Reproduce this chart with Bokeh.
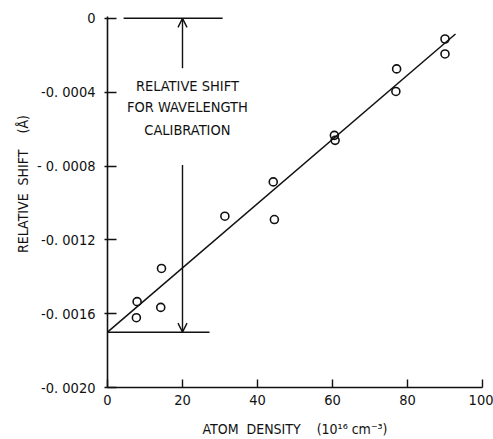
from bokeh.plotting import figure
from bokeh.models import Arrow, OpenHead, ColumnDataSource, FixedTicker
from bokeh.core.properties import value
from bokeh.embed import file_html
from bokeh.resources import INLINE

# measured relative line shift vs. atom density
density = [7.9, 7.7, 14.4, 14.2, 31.3, 44.2, 44.5, 60.5, 60.7, 77.1, 76.9, 90.0, 90.0]
shift = [-0.001535, -0.001622, -0.001355, -0.001566, -0.001072, -0.000886, -0.001090,
         -0.000634, -0.000661, -0.000274, -0.000396, -0.000112, -0.000193]

# straight-line fit through the points
fit_x = [0.0, 92.8]
fit_y = [-0.00170, -0.000085]

x_ticks = [0, 20, 40, 60, 80, 100]
y_ticks = [0.0, -0.0004, -0.0008, -0.0012, -0.0016, -0.0020]
y_tick_labels = ["0", "-0.\u00a00004", "-\u00a00.\u00a00008", "-0.\u00a00012",
                 "-0.\u00a00016", "-0.\u00a00020"]

note_lines = ["RELATIVE SHIFT", "FOR WAVELENGTH", "CALIBRATION"]

NB = "\u00a0"
x_title = f"ATOM{NB*2}DENSITY{NB*4}(10\u00b9\u2076{NB}cm\u207b\u00b3)"
# leading blanks lift the rotated title a little above the axis centre
y_title = f"{NB*9}RELATIVE{NB}{NB}SHIFT{NB*4}(\u00c5)"

FONT = "DejaVu Sans Condensed"
INK = "#111111"

p = figure(width=493, height=439, output_backend="svg", toolbar_location=None,
           x_range=(0, 100), y_range=(-0.0020, 0.00001),
           min_border_left=107, min_border_right=11, min_border_top=16, min_border_bottom=52)
p.outline_line_color = None
p.grid.visible = False
p.background_fill_color = "white"
p.border_fill_color = "white"

# axes
p.xaxis.ticker = FixedTicker(ticks=x_ticks)
p.yaxis.ticker = FixedTicker(ticks=y_ticks)
p.yaxis.major_label_overrides = {t: l for t, l in zip(y_ticks, y_tick_labels)}
for ax in (p.xaxis[0], p.yaxis[0]):
    ax.axis_line_color = INK
    ax.axis_line_width = 1.6
    ax.major_tick_line_color = INK
    ax.major_tick_line_width = 1.4
    ax.minor_tick_line_color = None
    ax.major_label_text_font = FONT
    ax.major_label_text_font_size = "14.5px"
    ax.major_label_text_color = INK
    ax.axis_label_text_font = FONT
    ax.axis_label_text_font_size = "14px"
    ax.axis_label_text_font_style = "normal"
    ax.axis_label_text_color = INK
p.xaxis.major_tick_in = 8
p.xaxis.major_tick_out = 0
p.yaxis.major_tick_in = 9
p.yaxis.major_tick_out = 3
p.xaxis.major_label_standoff = 7
p.yaxis.major_label_standoff = 9
p.xaxis.axis_label = x_title
p.xaxis.axis_label_standoff = 13
p.yaxis.axis_label = y_title
p.yaxis.axis_label_standoff = 3

# fitted line
p.line(fit_x, fit_y, line_color=INK, line_width=1.5)

# data points
src = ColumnDataSource(dict(x=density, y=shift))
p.scatter("x", "y", source=src, marker="circle", size=8, fill_color=None,
          line_color=INK, line_width=1.6)

# calibration bracket: reference lines at 0 and at the intercept
p.line([4.3, 30.7], [0.0, 0.0], line_color=INK, line_width=1.5)
p.line([0.0, 27.2], [fit_y[0], fit_y[0]], line_color=INK, line_width=1.5)

p.add_layout(Arrow(end=OpenHead(size=9, line_width=1.4, line_color=INK),
                   x_start=20, y_start=-0.00027, x_end=20, y_end=0.0,
                   line_color=INK, line_width=1.4))
p.add_layout(Arrow(end=OpenHead(size=9, line_width=1.4, line_color=INK),
                   x_start=20, y_start=-0.000795, x_end=20, y_end=fit_y[0],
                   line_color=INK, line_width=1.4))

note_y = [-0.000367, -0.000481, -0.000605]
p.text(x=[21.3] * 3, y=note_y, text=note_lines, text_font=value(FONT),
       text_font_size="14.5px", text_align="center", text_baseline="middle",
       text_color=INK)

open("out.html", "w").write(file_html(p, INLINE))
